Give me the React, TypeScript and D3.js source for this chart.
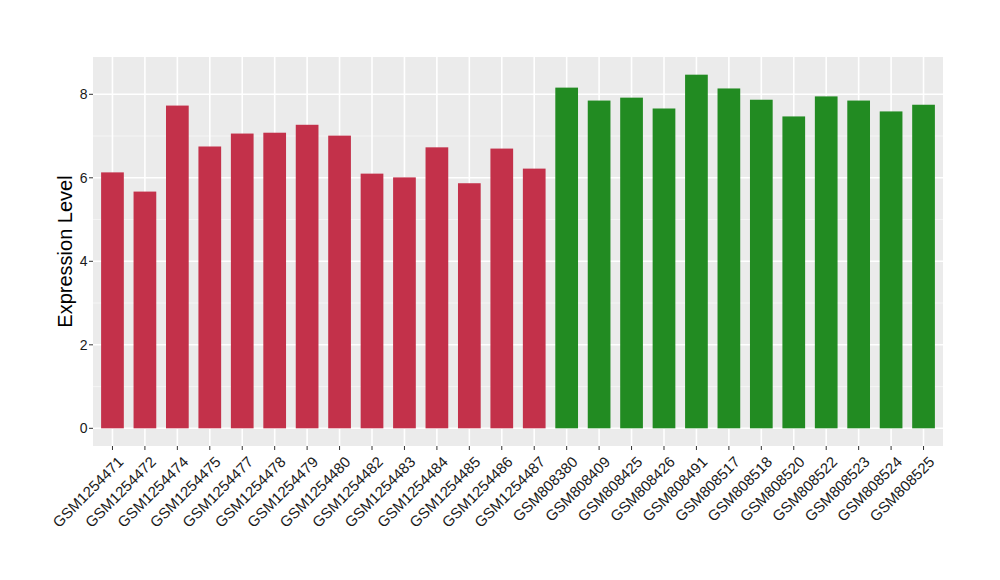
import React from "react";
import * as d3 from "d3";

const samples = [
  "GSM1254471", "GSM1254472", "GSM1254474", "GSM1254475", "GSM1254477",
  "GSM1254478", "GSM1254479", "GSM1254480", "GSM1254482", "GSM1254483",
  "GSM1254484", "GSM1254485", "GSM1254486", "GSM1254487",
  "GSM808380", "GSM808409", "GSM808425", "GSM808426", "GSM808491",
  "GSM808517", "GSM808518", "GSM808520", "GSM808522", "GSM808523",
  "GSM808524", "GSM808525",
];
const values = [
  6.13, 5.67, 7.73, 6.75, 7.06, 7.08, 7.27, 7.01, 6.10, 6.01, 6.73, 5.87, 6.70, 6.22,
  8.16, 7.85, 7.92, 7.66, 8.47, 8.14, 7.87, 7.47, 7.95, 7.85, 7.59, 7.75,
];
const groups = [
  "a", "a", "a", "a", "a", "a", "a", "a", "a", "a", "a", "a", "a", "a",
  "b", "b", "b", "b", "b", "b", "b", "b", "b", "b", "b", "b",
];
const groupColors: Record<string, string> = { a: "#C3314A", b: "#228B22" };
const yTicks = [0, 2, 4, 6, 8];
const yMinor = [1, 3, 5, 7];

const W = 1000;
const H = 580;
const panel = { left: 93, right: 943, top: 57, bottom: 446 };

export default function App() {
  const n = samples.length;
  const step = (panel.right - panel.left) / (n - 1 + 1.2);
  const x = d3
    .scalePoint<string>()
    .domain(samples)
    .range([panel.left + 0.6 * step, panel.right - 0.6 * step]);
  const maxV = d3.max(values) as number;
  const y = d3
    .scaleLinear()
    .domain([-0.05 * maxV, maxV * 1.05])
    .range([panel.bottom, panel.top]);
  const bw = step * 0.7;
  const font = "'Liberation Sans', Arial, Helvetica, sans-serif";

  return (
    <svg width={W} height={H} style={{ display: "block", position: "absolute", left: 0, top: 0 }} fontFamily={font}>
      <rect x={0} y={0} width={W} height={H} fill="#fff" />
      <rect
        x={panel.left}
        y={panel.top}
        width={panel.right - panel.left}
        height={panel.bottom - panel.top}
        fill="#EBEBEB"
      />
      {yMinor.map((t) => (
        <line key={"mn" + t} x1={panel.left} x2={panel.right} y1={y(t)} y2={y(t)} stroke="#F5F5F5" strokeWidth={1} />
      ))}
      {yTicks.map((t) => (
        <line key={"mj" + t} x1={panel.left} x2={panel.right} y1={y(t)} y2={y(t)} stroke="#fff" strokeWidth={1.6} />
      ))}
      {samples.map((s) => (
        <line key={"vx" + s} x1={x(s)} x2={x(s)} y1={panel.top} y2={panel.bottom} stroke="#fff" strokeWidth={1.6} />
      ))}
      {samples.map((s, i) => (
        <rect
          key={"b" + s}
          x={(x(s) as number) - bw / 2}
          y={y(values[i])}
          width={bw}
          height={y(0) - y(values[i])}
          fill={groupColors[groups[i]]}
        />
      ))}
      {yTicks.map((t) => (
        <g key={"yt" + t}>
          <line x1={panel.left - 4} x2={panel.left} y1={y(t)} y2={y(t)} stroke="#333" strokeWidth={1} />
          <text x={panel.left - 5.5} y={y(t)} dy="0.36em" textAnchor="end" fontSize={14} fill="#1a1a1a">
            {t}
          </text>
        </g>
      ))}
      {samples.map((s) => (
        <g key={"xt" + s}>
          <line x1={x(s)} x2={x(s)} y1={panel.bottom} y2={panel.bottom + 4} stroke="#333" strokeWidth={1} />
          <text
            transform={`translate(${(x(s) as number) + 4},${panel.bottom + 9}) rotate(-45)`}
            textAnchor="end"
            dy="0.75em"
            fontSize={15}
            fill="#1a1a1a"
          >
            {s}
          </text>
        </g>
      ))}
      <text
        transform={`translate(72,${(panel.top + panel.bottom) / 2}) rotate(-90)`}
        textAnchor="middle"
        fontSize={20}
        fill="#000"
      >
        Expression Level
      </text>
    </svg>
  );
}
